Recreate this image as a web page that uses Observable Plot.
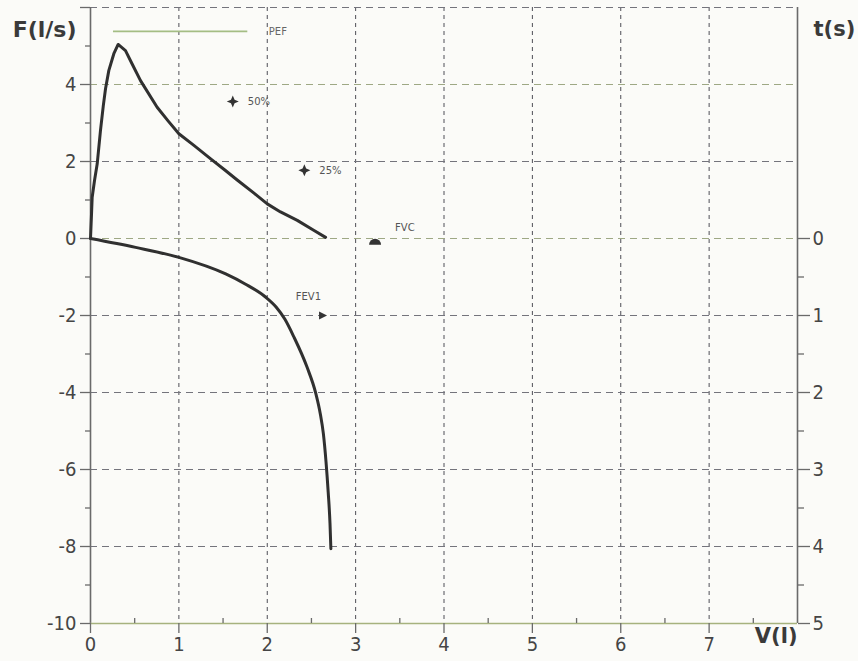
<!DOCTYPE html>
<html>
<head>
<meta charset="utf-8">
<script src="https://cdn.jsdelivr.net/npm/d3@7"></script>
<script src="https://cdn.jsdelivr.net/npm/@observablehq/plot@0.6"></script>
<style>
  html, body { margin: 0; padding: 0; background: #fbfbf8; }
  #chart svg { display: block; background: #fbfbf8; }
</style>
</head>
<body>
<div id="chart"></div>
<script>
// Expiratory flow-volume loop (volume in l, flow in l/s)
const expVol  = [0, 0.01, 0.019, 0.045, 0.076, 0.113, 0.145, 0.17, 0.207, 0.264, 0.313, 0.396, 0.47, 0.566, 0.754, 0.88, 1.0, 1.17, 1.36, 1.52, 1.66, 1.85, 2.0, 2.15, 2.34, 2.53, 2.66];
const expFlow = [0, 0.55, 1.07, 1.5, 1.94, 2.81, 3.45, 3.89, 4.36, 4.80, 5.04, 4.88, 4.54, 4.10, 3.41, 3.05, 2.72, 2.42, 2.07, 1.78, 1.52, 1.18, 0.90, 0.69, 0.47, 0.21, 0.03];
// Inspiratory part
const inspVol  = [0, 0.51, 1.0, 1.53, 1.75, 1.98, 2.1, 2.2, 2.3, 2.45, 2.55, 2.6, 2.635, 2.665, 2.69, 2.71, 2.72];
const inspFlow = [0, -0.23, -0.49, -0.92, -1.18, -1.52, -1.78, -2.1, -2.55, -3.34, -4.03, -4.55, -5.07, -5.8, -6.6, -7.4, -8.06];

// Markers
const markerNames = ["50%", "25%", "FVC", "FEV1"];
const markerVol   = [1.61, 2.42, 3.22, 2.62];
const markerFlow  = [3.56, 1.77, -0.10, -2.0];
// PEF reference line
const pefVol  = [0.26, 1.78];
const pefFlow = 5.38;

// Ticks
const xTicks = [0, 1, 2, 3, 4, 5, 6, 7];
const xMinor = [0.5, 1.5, 2.5, 3.5, 4.5, 5.5, 6.5, 7.5];
const yTicks = [-10, -8, -6, -4, -2, 0, 2, 4];
const yTopTick = [6];
const yMinor = [-9, -7, -5, -3, -1, 1, 3, 5];
const tTicks = [0, 1, 2, 3, 4, 5];
const tMinor = [0.5, 1.5, 2.5, 3.5, 4.5];
const xGrid = [1, 2, 3, 4, 5, 6, 7];
const yGrid = [-8, -6, -4, -2, 0, 2, 4, 6];

const expData  = expVol.map((v, i) => ({vol: v, flow: expFlow[i]}));
const inspData = inspVol.map((v, i) => ({vol: v, flow: inspFlow[i]}));
const markers  = markerNames.map((name, i) => ({name, vol: markerVol[i], flow: markerFlow[i]}));
const pick = n => markers.filter(d => d.name === n);

const FONT = "'Liberation Sans Narrow', 'DejaVu Sans Condensed', 'Liberation Sans', sans-serif";
const TICKCOL = "#454545";
const AXCOL = "#6a6a6a";

const sparkle = {
  draw(ctx, size) {
    const r = Math.sqrt(size / Math.PI), w = r * 0.3;
    ctx.moveTo(0, -r); ctx.lineTo(w, -w); ctx.lineTo(r, 0); ctx.lineTo(w, w);
    ctx.lineTo(0, r); ctx.lineTo(-w, w); ctx.lineTo(-r, 0); ctx.lineTo(-w, -w);
    ctx.closePath();
  }
};
const hump = {
  draw(ctx, size) {
    const r = Math.sqrt(size / Math.PI);
    ctx.moveTo(-r, r * 0.4);
    ctx.arc(0, r * 0.4, r, Math.PI, 2 * Math.PI);
    ctx.closePath();
  }
};
const rightTri = {
  draw(ctx, size) {
    const r = Math.sqrt(size / Math.PI);
    ctx.moveTo(r, 0); ctx.lineTo(-r * 0.6, -r * 0.8); ctx.lineTo(-r * 0.6, r * 0.8);
    ctx.closePath();
  }
};

const chart = Plot.plot({
  width: 858,
  height: 661,
  marginLeft: 90,
  marginRight: 61,
  marginTop: 7,
  marginBottom: 38,
  x: {domain: [0, 8]},
  y: {domain: [-10, 6]},
  style: {fontFamily: FONT, background: "#fbfbf8"},
  marks: [
    // grid
    Plot.ruleX(xGrid, {stroke: "#4e4e56", strokeWidth: 1, strokeDasharray: "4,4"}),
    Plot.ruleY(yGrid, {stroke: d => (d === 4 || d === 0) ? "#9ea884" : "#74747c", strokeWidth: 1, strokeDasharray: "7,5"}),
    // axis lines
    Plot.ruleX([0], {stroke: AXCOL, strokeWidth: 1.6}),
    Plot.ruleX([8], {stroke: AXCOL, strokeWidth: 1.6}),
    Plot.ruleY([-10], {stroke: "#a6b27e", strokeWidth: 1.6}),
    // left axis
    Plot.axisY(yTicks, {anchor: "left", label: null, tickSize: 10, tickPadding: 4, tickFormat: d => `${d}`,
      fontSize: 20, fill: TICKCOL, stroke: AXCOL, strokeWidth: 1.3}),
    Plot.axisY(yTopTick, {anchor: "left", label: null, tickSize: 10, tickFormat: () => "", stroke: AXCOL, strokeWidth: 1.3}),
    Plot.axisY(yMinor, {anchor: "left", label: null, tickSize: 5, tickFormat: () => "", stroke: AXCOL, strokeWidth: 1.3}),
    // right axis (time)
    Plot.axisY(tTicks.map(t => -2 * t), {anchor: "right", label: null, tickSize: 12, tickPadding: 3, tickFormat: d => `${-d / 2}`,
      fontSize: 20, fill: TICKCOL, stroke: AXCOL, strokeWidth: 1.3}),
    Plot.axisY(tMinor.map(t => -2 * t), {anchor: "right", label: null, tickSize: 6, tickFormat: () => "", stroke: AXCOL, strokeWidth: 1.3}),
    // bottom axis
    Plot.axisX(xTicks, {anchor: "bottom", label: null, tickSize: 10, tickPadding: 3, tickFormat: d => `${d}`,
      fontSize: 20, fill: TICKCOL, stroke: AXCOL, strokeWidth: 1.3}),
    Plot.tickX(xMinor, {stroke: AXCOL, strokeWidth: 1.3, insetTop: 611}),
    // axis titles
    Plot.text(["F(l/s)"], {frameAnchor: "top-left", text: d => d, textAnchor: "end", dx: -14, dy: 14,
      fontSize: 22, fontWeight: "bold", fill: "#3a3a3a", fontFamily: "'DejaVu Sans', sans-serif"}),
    Plot.text(["t(s)"], {frameAnchor: "top-right", text: d => d, textAnchor: "start", dx: 16, dy: 14,
      fontSize: 21, fontWeight: "bold", fill: "#3a3a3a", fontFamily: "'DejaVu Sans', sans-serif"}),
    Plot.text(["V(l)"], {frameAnchor: "bottom-right", text: d => d, textAnchor: "end", dx: 0, dy: 19,
      fontSize: 21, fontWeight: "bold", fill: "#3a3a3a", fontFamily: "'DejaVu Sans', sans-serif"}),
    // PEF line
    Plot.ruleY([pefFlow], {x1: pefVol[0], x2: pefVol[1], stroke: "#a4bd84", strokeWidth: 1.6}),
    Plot.text([pefFlow], {x: pefVol[1], y: d => d, text: () => "PEF", textAnchor: "start", dx: 21,
      fontSize: 10, fill: "#666", fontFamily: "'DejaVu Sans', sans-serif"}),
    // curves
    Plot.line(expData, {x: "vol", y: "flow", stroke: "#303030", strokeWidth: 3, curve: "linear", strokeLinejoin: "round"}),
    Plot.line(inspData, {x: "vol", y: "flow", stroke: "#303030", strokeWidth: 3, curve: "monotone-x", strokeLinejoin: "round"}),
    // markers
    Plot.dot(pick("50%").concat(pick("25%")), {x: "vol", y: "flow", symbol: sparkle, r: 6, fill: "#333", stroke: "none"}),
    Plot.dot(pick("FVC"), {x: "vol", y: "flow", symbol: hump, r: 6, fill: "#333", stroke: "none"}),
    Plot.dot(pick("FEV1"), {x: "vol", y: "flow", symbol: rightTri, r: 5, fill: "#333", stroke: "none"}),
    Plot.text(pick("50%").concat(pick("25%")), {x: "vol", y: "flow", text: "name", textAnchor: "start", dx: 15,
      fontSize: 10, fill: "#555", fontFamily: "'DejaVu Sans', sans-serif"}),
    Plot.text(pick("FVC"), {x: "vol", y: "flow", text: "name", textAnchor: "start", dx: 20, dy: -15,
      fontSize: 10, fill: "#555", fontFamily: "'DejaVu Sans', sans-serif"}),
    Plot.text(pick("FEV1"), {x: "vol", y: "flow", text: "name", textAnchor: "end", dx: -1, dy: -19,
      fontSize: 10, fill: "#555", fontFamily: "'DejaVu Sans', sans-serif"})
  ]
});
document.getElementById("chart").appendChild(chart);
</script>
</body>
</html>
